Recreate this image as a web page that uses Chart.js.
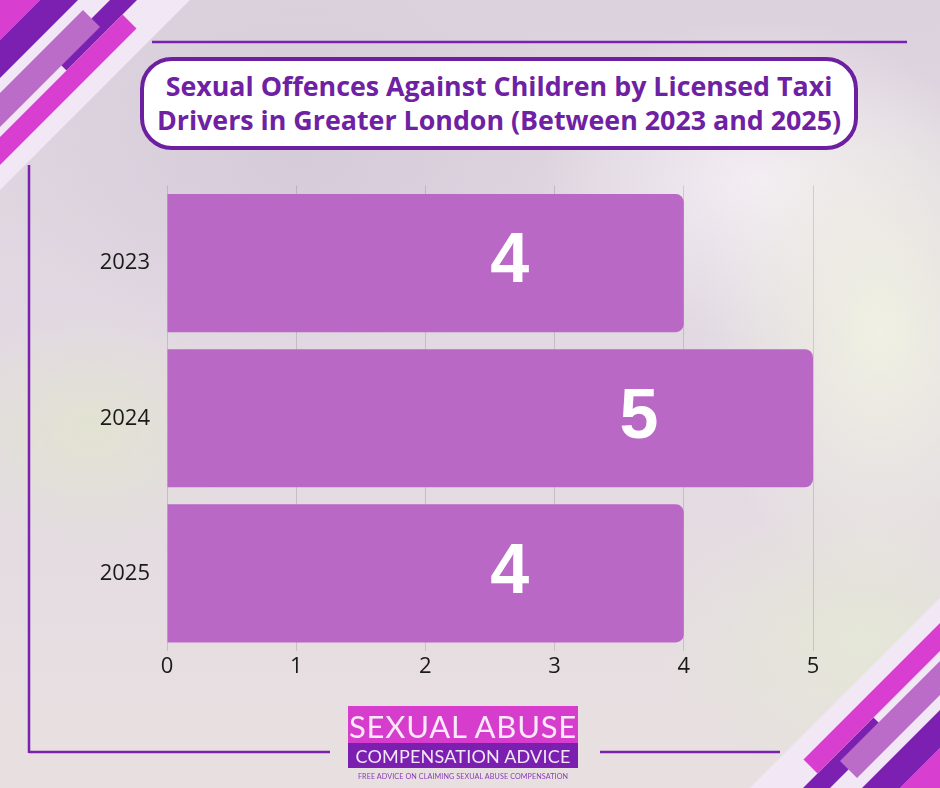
<!DOCTYPE html>
<html>
<head>
<meta charset="utf-8">
<script src="https://cdn.jsdelivr.net/npm/chart.js@4.4.1/dist/chart.umd.min.js"></script>
<style>
  html, body { margin: 0; padding: 0; }
  body {
    width: 940px; height: 788px; overflow: hidden; position: relative;
    background:
      radial-gradient(ellipse 180px 260px at 880px 330px, rgba(240,242,226,0.95), rgba(240,242,226,0) 100%),
      radial-gradient(ellipse 220px 160px at 760px 180px, rgba(246,240,246,0.9), rgba(246,240,246,0) 100%),
      radial-gradient(ellipse 160px 120px at 90px 430px, rgba(226,228,208,0.9), rgba(226,228,208,0) 100%),
      radial-gradient(ellipse 200px 140px at 860px 640px, rgba(228,232,214,0.9), rgba(228,232,214,0) 100%),
      radial-gradient(ellipse 300px 200px at 300px 160px, rgba(212,202,216,0.85), rgba(212,202,216,0) 100%),
      linear-gradient(180deg, #dcd2dd 0%, #e2d9e3 45%, #e8e0e0 100%);
  }
  #deco { position: absolute; left: 0; top: 0; }
  #title {
    position: absolute; left: 140px; top: 57px; width: 718px; height: 93px;
    box-sizing: border-box; border: 4px solid #6c1f9f; border-radius: 32px;
    background: #fff; color: #6f21a3;
    font-family: "Open Sans", sans-serif; font-weight: 700; font-size: 26.8px;
    line-height: 34px; text-align: center; padding-top: 8px; white-space: nowrap;
  }
  #wrap { position: absolute; left: 0; top: 0; width: 940px; height: 788px; }
  #logo { position: absolute; left: 348px; top: 706px; width: 230px; }
  #logo .top {
    background: #d73dcd; color: #fae9f8; height: 37px; line-height: 40px;
    font-family: Lato, sans-serif; font-size: 31px; text-align: center; letter-spacing: 0.8px;
    white-space: nowrap;
  }
  #logo .bot {
    background: #7a1fb0; color: #f4e6f6; height: 25px; line-height: 26px;
    font-family: Lato, sans-serif; font-size: 18px; text-align: center; letter-spacing: 0.2px;
    white-space: nowrap;
  }
  #logo .tag {
    color: #8a3ab5; font-family: Lato, sans-serif; font-size: 7.2px; text-align: center;
    margin-top: 4px; letter-spacing: 0.1px; white-space: nowrap;
  }
</style>
</head>
<body>
<svg id="deco" width="940" height="788"></svg>
<div id="title">Sexual Offences Against Children by Licensed Taxi<br>Drivers in Greater London (Between 2023 and 2025)</div>
<div id="wrap"><canvas id="chart" width="940" height="788"></canvas></div>
<div id="logo">
  <div class="top">SEXUAL ABUSE</div>
  <div class="bot">COMPENSATION ADVICE</div>
  <div class="tag">FREE ADVICE ON CLAIMING SEXUAL ABUSE COMPENSATION</div>
</div>
<script>
// chart data
const years = ['2023', '2024', '2025'];
const offences = [4, 5, 4];
const xTicks = [0, 1, 2, 3, 4, 5];

const BAR_COLOR = '#b968c6';

// corner stripes + frame lines (decoration only)
const svg = document.getElementById('deco');
const NS = 'http://www.w3.org/2000/svg';

function stripe(g, s1, s2, t1, t2, fill) {
  // s = x + y, t = x - y
  const pts = [[s1, t1], [s1, t2], [s2, t2], [s2, t1]]
    .map(([s, t]) => `${(s + t) / 2},${(s - t) / 2}`).join(' ');
  const p = document.createElementNS(NS, 'polygon');
  p.setAttribute('points', pts);
  p.setAttribute('fill', fill);
  g.appendChild(p);
}

function corner(transform) {
  const g = document.createElementNS(NS, 'g');
  if (transform) g.setAttribute('transform', transform);
  stripe(g, 0, 190, -400, 400, '#f2e8f5');
  stripe(g, 0, 40, -400, 400, '#d83fd0');
  stripe(g, 40, 78, -400, 400, '#7b20b0');
  stripe(g, 110, 137, -4, 400, '#7b20b0');
  stripe(g, 93, 127, -400, 73, '#bb6cc9');
  stripe(g, 137, 165, -400, 108, '#d83fd0');
  svg.appendChild(g);
}
corner('');
corner('rotate(180 470 394)');

function line(x1, y1, x2, y2) {
  const l = document.createElementNS(NS, 'line');
  l.setAttribute('x1', x1); l.setAttribute('y1', y1);
  l.setAttribute('x2', x2); l.setAttribute('y2', y2);
  l.setAttribute('stroke', '#7a22ad');
  l.setAttribute('stroke-width', 2.5);
  svg.appendChild(l);
}
line(152, 42, 907, 42);
line(29, 165, 29, 753);
line(29, 752, 330, 752);
line(600, 752, 780, 752);

// big white numbers inside the bars
const valueLabels = {
  id: 'valueLabels',
  afterDatasetsDraw(chart) {
    const { ctx } = chart;
    const meta = chart.getDatasetMeta(0);
    ctx.save();
    ctx.fillStyle = '#ffffff';
    ctx.font = 'bold 70px "Liberation Sans", Arial, sans-serif';
    ctx.textAlign = 'center';
    ctx.textBaseline = 'middle';
    meta.data.forEach((bar, i) => {
      ctx.fillText(String(offences[i]), bar.x - 174, bar.y);
    });
    ctx.restore();
  }
};

const ctx = document.getElementById('chart').getContext('2d');
new Chart(ctx, {
  type: 'bar',
  data: {
    labels: years,
    datasets: [{
      data: offences,
      backgroundColor: BAR_COLOR,
      borderRadius: 8,
      borderSkipped: 'start',
      barPercentage: 0.89,
      categoryPercentage: 1
    }]
  },
  options: {
    indexAxis: 'y',
    responsive: false,
    animation: false,
    layout: { padding: { left: 0, right: 127, top: 185.5, bottom: 0 } },
    plugins: {
      legend: { display: false },
      tooltip: { enabled: false }
    },
    scales: {
      x: {
        min: 0,
        max: 5,
        afterBuildTicks: (axis) => { axis.ticks = xTicks.map(v => ({ value: v })); },
        afterFit: (axis) => { axis.height = 137; },
        grid: { color: 'rgba(0,0,0,0.13)', lineWidth: 1, drawTicks: false },
        border: { display: false },
        ticks: {
          padding: 3,
          color: '#1a1a1a',
          font: { family: '"Open Sans", sans-serif', size: 22 }
        }
      },
      y: {
        afterFit: (axis) => { axis.width = 167; },
        grid: { display: false, drawTicks: false },
        border: { display: false },
        ticks: {
          padding: 17,
          color: '#1a1a1a',
          font: { family: '"Open Sans", sans-serif', size: 22 }
        }
      }
    }
  },
  plugins: [valueLabels]
});
</script>
</body>
</html>
